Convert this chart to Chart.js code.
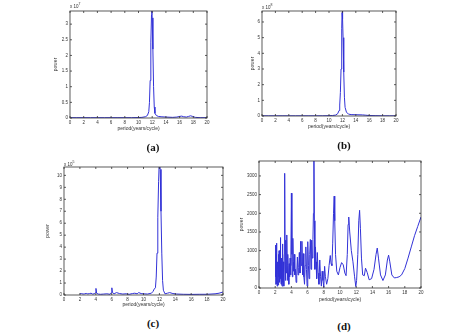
<!DOCTYPE html>
<html>
<head>
<meta charset="utf-8">
<script src="https://cdn.jsdelivr.net/npm/chart.js@4.4.1/dist/chart.umd.min.js"></script>
<style>
  html, body { margin: 0; padding: 0; background: #fff; }
  #page { position: relative; width: 474px; height: 335px; overflow: hidden; background: #fff; }
  canvas { position: absolute; }
  .cap { position: absolute; font: bold 11px "Liberation Serif", "DejaVu Serif", serif; color: #111; transform: translate(-50%, -50%); }
  .exp { position: absolute; font: 4.5px "Liberation Sans", Arial, sans-serif; color: #333; line-height: 1; white-space: nowrap; }
  .exp sup { font-size: 3.5px; }
</style>
</head>
<body>
<div id="page">
  <canvas id="chartA"></canvas>
  <canvas id="chartB"></canvas>
  <canvas id="chartC"></canvas>
  <canvas id="chartD"></canvas>
  <div class="exp" style="left:70px; top:3px;">x 10<sup>7</sup></div>
  <div class="exp" style="left:262px; top:4px;">x 10<sup>8</sup></div>
  <div class="exp" style="left:64px; top:161px;">x 10<sup>5</sup></div>
  <div class="cap" style="left:153px; top:147px;">(a)</div>
  <div class="cap" style="left:344px; top:145px;">(b)</div>
  <div class="cap" style="left:153px; top:323px;">(c)</div>
  <div class="cap" style="left:344px; top:326px;">(d)</div>
</div>
<script>
// tick labels
const periodTicks = [0, 2, 4, 6, 8, 10, 12, 14, 16, 18, 20];
const powerTicksA = [0, 0.5, 1, 1.5, 2, 2.5, 3];
const powerTicksB = [0, 1, 2, 3, 4, 5, 6];
const powerTicksC = [0, 1, 2, 3, 4, 5, 6, 7, 8, 9, 10];
const powerTicksD = [0, 500, 1000, 1500, 2000, 2500, 3000];

// (a)
const periodA = [0.05, 1, 2, 3, 4, 5, 6, 7, 8, 9, 10,
  10.5, 11, 11.3, 11.5, 11.6, 11.7, 11.8, 11.9, 11.95, 12.0, 12.1, 12.2, 12.3, 12.4, 12.6, 12.9, 13.3,
  14, 15, 15.6, 16.0, 16.3, 16.6, 17.0, 17.3, 17.6, 17.9, 18.3, 19, 20];
const powerA = [0.01, 0.01, 0.01, 0.01, 0.01, 0.01, 0.01, 0.01, 0.01, 0.01, 0.015,
  0.02, 0.04, 0.08, 0.2, 0.5, 1.2, 2.4, 3.3, 3.45, 3.2, 2.2, 1.0, 0.35, 0.15, 0.08, 0.05, 0.04,
  0.03, 0.02, 0.03, 0.05, 0.06, 0.04, 0.03, 0.05, 0.07, 0.05, 0.02, 0.01, 0.01];

// (b)
const periodB = [0.05, 1, 2, 3, 4, 5, 6, 7, 8, 9, 10,
  10.5, 11, 11.3, 11.5, 11.6, 11.7, 11.8, 11.9, 11.95, 12.0, 12.05, 12.1, 12.2, 12.3, 12.4, 12.6, 12.9, 13.3,
  14, 15, 15.5, 16, 17, 18, 19, 20];
const powerB = [0.01, 0.01, 0.01, 0.01, 0.01, 0.01, 0.01, 0.01, 0.01, 0.01, 0.02,
  0.03, 0.06, 0.15, 0.35, 0.7, 1.5, 3.0, 5.6, 6.6, 6.75, 6.2, 5.0, 2.8, 1.2, 0.55, 0.25, 0.12, 0.09,
  0.08, 0.07, 0.05, 0.03, 0.02, 0.01, 0.01, 0.01];

// (c)
const periodC = [2, 2.2, 2.4, 2.6, 2.8, 3, 3.2, 3.4, 3.6, 3.8,
  3.95, 4.02, 4.1, 4.3, 4.6, 5, 5.4, 5.8, 5.95, 6.02,
  6.1, 6.3, 6.6, 7, 7.4, 7.8, 8.2, 8.6, 8.9, 9.2,
  9.4, 9.7, 10, 10.5, 11, 11.2, 11.35, 11.5, 11.6, 11.7,
  11.8, 11.9, 12.0, 12.1, 12.2, 12.3, 12.4, 12.5, 12.7, 13,
  13.3, 13.7, 14.2, 15, 16, 17, 18, 19, 19.5, 20];
const powerC = [0.1, 0.12, 0.08, 0.1, 0.13, 0.09, 0.12, 0.15, 0.08, 0.1,
  0.2, 0.55, 0.15, 0.08, 0.06, 0.08, 0.1, 0.06, 0.2, 0.6,
  0.2, 0.1, 0.2, 0.12, 0.08, 0.1, 0.06, 0.12, 0.15, 0.1,
  0.2, 0.12, 0.1, 0.08, 0.15, 0.3, 0.5, 0.6, 1.5, 3.5,
  6.5, 9.5, 11.5, 10.5, 7.0, 3.5, 1.2, 0.4, 0.1, 0.15,
  0.2, 0.12, 0.08, 0.06, 0.05, 0.06, 0.06, 0.1, 0.15, 0.25];

// (d)
const periodD = [2.00, 2.03, 2.06, 2.09, 2.12, 2.15, 2.18, 2.21, 2.24, 2.27,
  2.30, 2.33, 2.36, 2.40, 2.44, 2.48, 2.52, 2.56, 2.60, 2.64,
  2.68, 2.72, 2.76, 2.80, 2.84, 2.88, 2.92, 2.96, 3.00, 3.04,
  3.08, 3.12, 3.17, 3.22, 3.27, 3.32, 3.38, 3.43, 3.48, 3.53,
  3.58, 3.63, 3.68, 3.73, 3.78, 3.84, 3.90, 3.95, 4.00, 4.06,
  4.12, 4.18, 4.24, 4.30, 4.36, 4.42, 4.50, 4.58, 4.66, 4.74,
  4.82, 4.90, 4.98, 5.06, 5.14, 5.22, 5.30, 5.38, 5.46, 5.54,
  5.62, 5.70, 5.78, 5.86, 5.94, 6.02, 6.10, 6.18, 6.26, 6.34,
  6.42, 6.50, 6.58, 6.66, 6.72, 6.78, 6.84, 6.90, 6.97, 7.04,
  7.12, 7.20, 7.30, 7.40, 7.50, 7.60, 7.70, 7.80, 7.90, 8.00,
  8.10, 8.20, 8.35, 8.50, 8.65, 8.80, 8.90, 9.00, 9.10, 9.20,
  9.28, 9.35, 9.45, 9.60, 9.80, 10.00, 10.20, 10.40, 10.60, 10.75,
  10.90, 11.00, 11.08, 11.20, 11.40, 11.60, 11.80, 11.95, 12.05, 12.20,
  12.32, 12.42, 12.52, 12.65, 12.80, 13.00, 13.15, 13.35, 13.60, 13.90,
  14.20, 14.45, 14.60, 14.75, 15.00, 15.30, 15.60, 15.85, 16.00, 16.15,
  16.40, 16.70, 17.00, 17.30, 17.60, 18.00, 18.40, 18.80, 19.20, 19.60,
  20.00];
const powerD = [100, 600, 1150, 300, 900, 100, 1200, 400, 50, 700,
  200, 500, 80, 900, 300, 1000, 150, 600, 250, 1350,
  400, 100, 800, 300, 50, 1180, 450, 150, 700, 250,
  50, 900, 3070, 800, 200, 1280, 400, 1420, 600, 200,
  900, 400, 100, 650, 300, 800, 350, 600, 2540, 900,
  300, 1330, 700, 450, 900, 350, 500, 150, 400, 830,
  350, 550, 950, 400, 1250, 600, 1250, 350, 920, 300,
  100, 600, 1100, 500, 50, 1240, 600, 250, 900, 1300,
  500, 1280, 800, 1300, 2000, 3600, 1800, 500, 1100, 700,
  250, 950, 400, 100, 750, 300, 50, 450, 200, 20,
  580, 300, 100, 250, 600, 870, 650, 600, 1200, 2000,
  2460, 1800, 900, 450, 350, 550, 680, 620, 400, 330,
  900, 1700, 1900, 1500, 1000, 700, 300, 40, 200, 900,
  1800, 2080, 1600, 800, 350, 330, 530, 420, 220, 250,
  500, 900, 1070, 800, 350, 200, 350, 750, 880, 700,
  350, 270, 280, 300, 350, 520, 800, 1100, 1400, 1650,
  1900];

const lineColor = 'rgb(50, 50, 215)';
const frameColor = '#333';

// MATLAB style box with inward ticks on all sides
const boxFrame = {
  id: 'boxFrame',
  afterDatasetsDraw(chart) {
    const { ctx, chartArea: a } = chart;
    const x = chart.scales.x, y = chart.scales.y;
    ctx.save();
    ctx.strokeStyle = frameColor;
    ctx.lineWidth = 0.8;
    ctx.strokeRect(a.left, a.top, a.right - a.left, a.bottom - a.top);
    ctx.beginPath();
    x.ticks.forEach(t => {
      const px = x.getPixelForValue(t.value);
      ctx.moveTo(px, a.bottom); ctx.lineTo(px, a.bottom - 2);
      ctx.moveTo(px, a.top); ctx.lineTo(px, a.top + 2);
    });
    y.ticks.forEach(t => {
      const py = y.getPixelForValue(t.value);
      ctx.moveTo(a.left, py); ctx.lineTo(a.left + 2, py);
      ctx.moveTo(a.right, py); ctx.lineTo(a.right - 2, py);
    });
    ctx.stroke();
    ctx.restore();
  }
};

function makePanel(id, box, xs, ys, yMax, yTicks) {
  const padTop = 10, padRight = 8;
  const cv = document.getElementById(id);
  const w = box.wy + (box.R - box.L) + padRight;
  const h = padTop + (box.B - box.T) + box.hx;
  cv.width = w; cv.height = h;
  cv.style.left = (box.L - box.wy) + 'px';
  cv.style.top = (box.T - padTop) + 'px';
  const tickFont = { family: '"Liberation Sans", Arial, sans-serif', size: 4.5 };
  const titleFont = { family: '"Liberation Sans", Arial, sans-serif', size: 5 };
  return new Chart(cv.getContext('2d'), {
    type: 'line',
    data: {
      datasets: [{
        data: xs.map((v, i) => ({ x: v, y: ys[i] })),
        borderColor: lineColor,
        borderWidth: 1,
        pointRadius: 0,
        tension: 0,
        fill: false
      }]
    },
    options: {
      responsive: false,
      animation: false,
      devicePixelRatio: 1,
      layout: { padding: { top: padTop, right: padRight, left: 0, bottom: 0 } },
      plugins: { legend: { display: false }, tooltip: { enabled: false } },
      scales: {
        x: {
          type: 'linear', min: 0, max: 20,
          afterBuildTicks: s => { s.ticks = periodTicks.map(v => ({ value: v })); },
          ticks: { font: tickFont, color: '#333', padding: 2, maxRotation: 0, autoSkip: false, callback: v => String(v) },
          grid: { display: false, drawTicks: false },
          border: { display: false },
          title: { display: true, text: 'period(years/cycle)', font: titleFont, color: '#333', padding: 0 },
          afterFit: s => { s.height = box.hx; }
        },
        y: {
          type: 'linear', min: 0, max: yMax,
          afterBuildTicks: s => { s.ticks = yTicks.map(v => ({ value: v })); },
          ticks: { font: tickFont, color: '#333', padding: 2, autoSkip: false, callback: v => String(v) },
          grid: { display: false, drawTicks: false },
          border: { display: false },
          title: { display: true, text: 'power', font: titleFont, color: '#333', padding: 0 },
          afterFit: s => { s.width = box.wy; }
        }
      }
    },
    plugins: [boxFrame]
  });
}

makePanel('chartA', { L: 70, T: 11, R: 207, B: 118, wy: 17, hx: 14 }, periodA, powerA, 3.42, powerTicksA);
makePanel('chartB', { L: 262, T: 11, R: 396, B: 116, wy: 12, hx: 14 }, periodB, powerB, 6.7, powerTicksB);
makePanel('chartC', { L: 64, T: 167, R: 223, B: 295, wy: 19, hx: 13 }, periodC, powerC, 10.7, powerTicksC);
makePanel('chartD', { L: 259, T: 161, R: 421, B: 288, wy: 20, hx: 15 }, periodD, powerD, 3400, powerTicksD);
</script>
</body>
</html>
